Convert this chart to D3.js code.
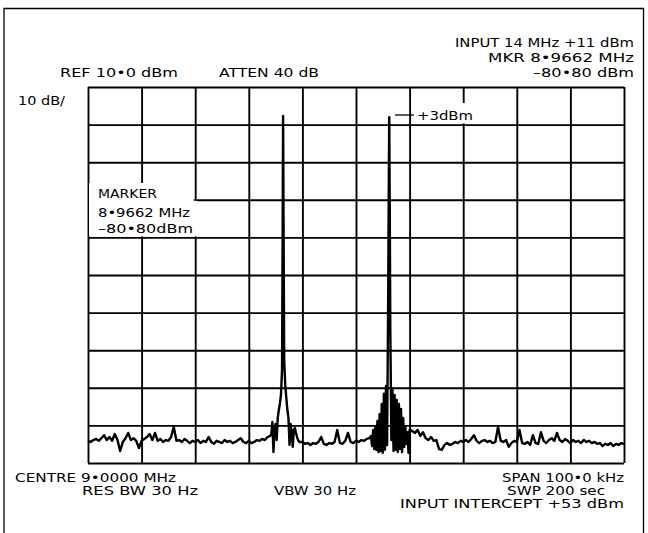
<!DOCTYPE html>
<html><head><meta charset="utf-8">
<script src="https://cdn.jsdelivr.net/npm/d3@7"></script>
<style>
body{margin:0;background:#fff}
text{font-family:"DejaVu Sans",sans-serif;fill:#000;font-size:11.5px}
</style>
</head><body><svg id="c" width="648" height="533"></svg>
<script>
// ---- data (frequency offsets in kHz from 8.9500 MHz; levels in dBm) ----
const freqTicksKHz = [0,10,20,30,40,50,60,70,80,90,100];
const levelTicksDbm = [10,0,-10,-20,-30,-40,-50,-60,-70,-80,-90];

// noise floor left of first tone, 0..34 kHz every 0.5 kHz
const traceLeft = [
-84.1,-84.4,-83.9,-83.6,-84.1,-83.4,-82.6,-83.9,-83.1,-84.1,
-82.3,-83.9,-86.8,-84.4,-83.4,-82.0,-83.9,-83.4,-84.1,-86.0,
-84.1,-83.6,-83.1,-82.3,-83.9,-82.0,-84.1,-83.6,-84.4,-83.9,
-84.1,-83.1,-80.4,-84.1,-83.9,-84.4,-83.6,-84.1,-84.7,-84.1,
-84.4,-83.9,-84.7,-84.1,-84.4,-83.1,-84.4,-84.9,-84.1,-84.4,
-84.7,-83.9,-84.4,-84.1,-84.7,-84.4,-83.9,-83.4,-84.4,-84.7,
-84.1,-84.7,-84.4,-83.9,-84.1,-83.6,-83.9,-83.1,-82.8];

// first tone
const peak1Freq = [34.2,34.4,34.6,34.8,35.0,35.2,35.4,35.6,35.8,36.0,36.2,36.3,36.4,36.5,36.6,36.8,37.0,37.2,37.4,37.6,37.8,38.0,38.2,38.4,38.6,38.8,39.0,39.2,39.4];
const peak1Level = [-82.3,-79.1,-87.1,-80.7,-79.6,-83.9,-78.0,-75.9,-74.3,-71.9,-65.3,-33.4,2.3,-30.7,-62.6,-69.3,-72.7,-75.9,-78.0,-85.2,-79.6,-81.8,-85.7,-81.2,-80.7,-82.0,-83.1,-83.9,-84.4];

// noise between tones, 40..52.5 kHz every 0.5 kHz
const traceMid = [
-84.4,-84.9,-84.7,-85.2,-84.7,-84.9,-84.4,-83.1,-84.9,-85.2,
-84.7,-84.9,-84.4,-81.2,-84.7,-84.9,-84.1,-82.0,-84.4,-84.7,
-84.1,-84.4,-83.9,-84.1,-83.6,-83.4];

// second tone (with intermodulation skirt)
const peak2Freq = [52.8,53.0,53.2,53.4,53.6,53.8,54.0,54.2,54.4,54.6,54.8,55.0,55.2,55.4,55.6,55.8,56.0,56.1,56.2,56.3,56.4,56.6,56.8,57.0,57.2,57.4,57.6,57.8,58.0,58.2,58.4,58.6,58.8,59.0,59.2,59.4,59.6,59.8,60.0];
const peak2Level = [-82.8,-85.5,-81.2,-86.3,-80.4,-86.5,-78.8,-87.1,-77.0,-86.8,-74.3,-87.3,-71.6,-86.5,-69.5,-85.2,-46.6,-20.1,2.0,-22.7,-54.6,-83.9,-70.1,-86.8,-71.9,-86.5,-73.2,-87.1,-74.3,-86.3,-75.6,-87.1,-78.0,-85.7,-80.2,-84.9,-81.8,-87.3,-81.2];

// noise right of second tone, 60.5..100 kHz every 0.5 kHz
const traceRight = [
-81.5,-82.0,-81.2,-82.8,-81.8,-83.4,-83.9,-83.1,-84.1,-83.9,
-86.3,-86.5,-85.2,-84.7,-85.2,-84.9,-84.4,-84.7,-84.1,-84.4,
-83.9,-84.4,-83.6,-82.6,-84.1,-84.7,-84.1,-83.9,-84.4,-84.1,
-84.7,-84.4,-80.4,-84.1,-84.4,-83.9,-85.7,-84.7,-84.1,-84.4,
-81.2,-84.7,-84.9,-84.4,-85.2,-82.6,-84.7,-84.9,-81.8,-84.1,
-84.7,-83.9,-83.4,-84.1,-82.0,-83.9,-84.4,-83.6,-84.1,-84.7,
-83.9,-84.4,-84.1,-84.7,-83.9,-84.4,-84.1,-84.7,-84.4,-84.9,
-84.7,-85.5,-84.9,-85.2,-84.7,-85.5,-84.9,-85.2,-84.7,-84.9];

const topLabels = ["INPUT 14 MHz  +11 dBm","MKR 8\u20229662 MHz","\u201380\u202280 dBm"];
const headerLabels = ["REF 10\u20220 dBm","ATTEN 40 dB","10 dB/"];
const markerLabels = ["MARKER","8\u20229662 MHz","\u201380\u202280dBm"];
const footerLabels = ["CENTRE 9\u20220000 MHz","RES BW 30 Hz","VBW 30 Hz","SPAN 100\u20220 kHz","SWP 200 sec","INPUT INTERCEPT +53 dBm"];
const toneLabel = "+3dBm";

// ---- build trace ----
const trace = [];
traceLeft.forEach((v,i)=>trace.push({f:i*0.5,l:v}));
peak1Freq.forEach((f,i)=>trace.push({f:f,l:peak1Level[i]}));
traceMid.forEach((v,i)=>trace.push({f:40+i*0.5,l:v}));
peak2Freq.forEach((f,i)=>trace.push({f:f,l:peak2Level[i]}));
traceRight.forEach((v,i)=>trace.push({f:60.5+i*0.5,l:v}));

const svg = d3.select("#c");
const x = d3.scaleLinear().domain([0,100]).range([88,624]);
const y = d3.scaleLinear().domain([10,-90]).range([87,463]);

// page border
svg.append("path").attr("d","M4,533 V8.5 H643.5 V533").attr("fill","none").attr("stroke","#000").attr("stroke-width",1.3);

// grid via axes
const gx = svg.append("g").attr("transform",`translate(0,${y(-90)})`)
  .call(d3.axisBottom(x).tickValues(freqTicksKHz).tickSize(-(y(-90)-y(10))).tickFormat(""));
const gy = svg.append("g").attr("transform",`translate(${x(0)},0)`)
  .call(d3.axisLeft(y).tickValues(levelTicksDbm).tickSize(-(x(100)-x(0))).tickFormat(""));
[gx,gy].forEach(g=>{g.select(".domain").remove();g.selectAll(".tick line").attr("stroke","#000").attr("stroke-width",1.9);});

// marker readout area clears the grid
svg.append("rect").attr("x",x(0)+1).attr("y",183).attr("width",x(20)-x(0)-2.5).attr("height",y(-30)-183-1).attr("fill","#fff");
svg.append("rect").attr("x",x(20)-2).attr("y",y(-20)+1).attr("width",4).attr("height",y(-30)-y(-20)-2).attr("fill","#fff");
// tone label clears the grid
svg.append("rect").attr("x",417).attr("y",103).attr("width",58).attr("height",y(0)-103-1.2).attr("fill","#fff");

// trace
svg.append("path").datum(trace)
  .attr("d",d3.line().x(d=>x(d.f)).y(d=>y(d.l)))
  .attr("fill","none").attr("stroke","#000").attr("stroke-width",2.4).attr("stroke-linejoin","round");

// texts
function label(t,x0,yb,w){
  svg.append("text").attr("x",x0).attr("y",yb).attr("textLength",w).attr("lengthAdjust","spacingAndGlyphs").text(t);
}
label(topLabels[0],455,47,179);
label(topLabels[1],488,62,146);
label(topLabels[2],533,77,101);
label(headerLabels[0],60,77,118);
label(headerLabels[1],219,77,100);
label(headerLabels[2],18,105,47);
label(markerLabels[0],98,198,59);
label(markerLabels[1],98,217,92);
label(markerLabels[2],98,233,95);
label(footerLabels[0],15,482,161);
label(footerLabels[1],82,495,116);
label(footerLabels[2],274,495,82);
label(footerLabels[3],502,482,122);
label(footerLabels[4],507,495,98);
label(footerLabels[5],400,508,224);
// tone annotation
svg.append("line").attr("x1",395).attr("x2",414).attr("y1",115).attr("y2",115).attr("stroke","#000").attr("stroke-width",1.3);
label(toneLabel,417,120,56);
</script></body></html>
